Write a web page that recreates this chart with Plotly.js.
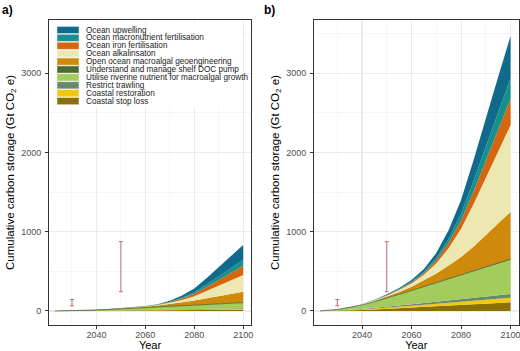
<!DOCTYPE html>
<html><head><meta charset="utf-8">
<script src="https://cdn.plot.ly/plotly-3.0.1.min.js"></script>
<style>html,body{margin:0;padding:0;background:#fff}#chart{width:520px;height:351px}</style>
</head><body><div id="chart"></div>
<script>
// ---- data ----
const years = [2023,2025,2030,2035,2040,2045,2050,2055,2060,2065,2070,2075,2080,2085,2090,2095,2100];

// panel a (Gt CO2 e, per layer)
const a_stopLoss      = [0,0.1,0.5,1,1.7,2.7,3.7,4.8,5.9,7,8.1,9.3,10.4,11.5,12.6,13.8,15];
const a_restoration   = [0,0.05,0.3,0.7,1.2,1.8,2.5,3.2,3.9,4.7,5.4,6.2,6.9,7.7,8.4,9.2,10];
const a_trawling      = [0,0.04,0.2,0.6,0.9,1.4,2,2.6,3.2,3.7,4.3,4.9,5.5,6.1,6.7,7.4,8];
const a_riverine      = [0,0.4,2.1,4.9,8,12.6,17.2,22.4,27.6,32.8,37.9,43.2,48.4,53.6,58.8,64.4,70];
const a_docPump       = [0,0,0.1,0.1,0.2,0.4,0.5,0.6,0.8,0.9,1.1,1.2,1.4,1.5,1.7,1.8,2];
const a_macroalgal    = [0,0,0,0,1,2,4,7,12,20,30,44,60,80,100,118,138];
const a_alkalinity    = [0,0,0,0.2,0.4,0.8,1.5,2.1,3.2,6.1,15.4,30.8,54.4,90.7,129.8,169.9,211];
const a_iron          = [0,0,0,0.1,0.2,0.5,0.8,1.2,1.8,3.4,8.5,17.1,30.2,50.3,72,94.2,117];
const a_macronutrient = [0,0,0,0.1,0.1,0.3,0.5,0.7,1.1,2.1,5.3,10.5,18.6,31,44.3,58,72];
const a_upwelling     = [0,0,0,0.2,0.4,0.8,1.3,1.9,2.8,5.5,13.8,27.6,48.8,81.3,116.2,152.1,189];

// panel b
const b_stopLoss      = [0,0.5,3,8,13,20,27,35,43,51,60,68,76,84,92,101,110];
const b_restoration   = [0,0.3,2,4,7,10,14,19,23,27,31,36,40,44,49,53,58];
const b_trawling      = [0,0.2,1,3,5,8,11,15,18,22,25,28,32,35,39,42,46];
const b_riverine      = [0,2,13,30,50,78,106,138,170,202,234,266,298,330,362,397,431];
const b_docPump       = [0,0,0.3,0.7,1,2,2.5,3,4,5,5.4,6,7,8,8.4,9,10];
const b_macroalgal    = [0,0,0,0,3,8,18,30,47,78,118,168,229,310,404,500,597];
const b_alkalinity    = [0,0,0,1,3,8,15,24.7,41.5,71,127,221,354,536,732,913,1093];
const b_iron          = [0,0,0,0.3,1,2,5,7.4,12.5,21,38,66,106,161,220,274,328];
const b_macronutrient = [0,0,0,0.3,1,2,4,5.9,9.9,17,30,53,85,128,175,218,261];
const b_upwelling     = [0,0,0,0.5,2,4,7,12,20.3,35,62,108,173,262,358,446,534];

// error bars (target ranges)
const errYears = [2030, 2050];
const errLow   = [65, 243];
const errHigh  = [145, 874];

// names (bottom of stack first)
const seriesNames = ["Coastal stop loss","Coastal restoration","Restrict trawling",
  "Utilise riverine nutrient for macroalgal growth","Understand and manage shelf DOC pump",
  "Open ocean macroalgal geoengineering","Ocean alkalinsaton","Ocean iron fertilisation",
  "Ocean macronutrient fertilisation","Ocean upwelling"];
const seriesColors = ["#8a7006","#f1c80a","#678a6c","#a2cc5b","#4e6a2f",
  "#d08a0b","#ede8b2","#d5650e","#16908c","#0f6a8c"];
const panelA = [a_stopLoss,a_restoration,a_trawling,a_riverine,a_docPump,a_macroalgal,a_alkalinity,a_iron,a_macronutrient,a_upwelling];
const panelB = [b_stopLoss,b_restoration,b_trawling,b_riverine,b_docPump,b_macroalgal,b_alkalinity,b_iron,b_macronutrient,b_upwelling];

const xTickVals = [2040,2060,2080,2100];
const xTickText = ["2040","2060","2080","2100"];
const yTickVals = [0,1000,2000,3000];
const yTickText = ["0","1000","2000","3000"];

// ---- layout helpers ----
const W = 520, H = 351;
const px = v => v / W;
const py = v => 1 - v / H;
const FONT = "Liberation Sans, Arial, Helvetica, sans-serif";

const traces = [];
[[panelA,'x','y','a'],[panelB,'x2','y2','b']].forEach(([panel, xa, ya, grp]) => {
  panel.forEach((arr, i) => {
    traces.push({
      type:'scatter', mode:'lines', x: years, y: arr, stackgroup: grp,
      xaxis: xa, yaxis: ya, name: seriesNames[i],
      line:{width: seriesNames[i].startsWith("Understand") ? 0.8 : 0, color: seriesColors[i]},
      fillcolor: seriesColors[i], hoverinfo:'skip', showlegend:false
    });
  });
  const mid = errLow.map((l,i)=> (l+errHigh[i])/2);
  traces.push({
    type:'scatter', mode:'markers', x: errYears, y: mid, xaxis: xa, yaxis: ya,
    marker:{size:1, color:'rgba(0,0,0,0)'}, showlegend:false, hoverinfo:'skip',
    error_y:{type:'data', symmetric:false,
      array: errHigh.map((h,i)=>h-mid[i]), arrayminus: mid.map((m,i)=>m-errLow[i]),
      color:'#c06a6d', thickness:1, width:2}
  });
});

function xAxis(domain){
  return {domain, range:[2020.6,2103.2], tickmode:'array', tickvals:xTickVals, ticktext:xTickText,
    ticks:'outside', ticklen:3, tickcolor:'#333', tickwidth:1, ticklabeloverflow:'allow', ticklabelstandoff:-2,
    tickfont:{family:FONT,size:9,color:'#4d4d4d'},
    showline:true, mirror:true, linecolor:'#333', linewidth:1,
    showgrid:true, gridcolor:'#ebebeb', gridwidth:1.1, zeroline:false,
    minor:{tickmode:'array', tickvals:[2030,2050,2070,2090], showgrid:true, gridcolor:'#f0f0f0', gridwidth:0.6, ticks:''},
    title:{text:'Year', font:{family:FONT,size:11,color:'#000'}, standoff:3}, automargin:false, fixedrange:true};
}
function yAxis(anchor){
  return {domain:[py(325), py(20)], range:[-177,3670], anchor, tickmode:'array', tickvals:yTickVals, ticktext:yTickText,
    ticks:'outside', ticklen:3, tickcolor:'#333', tickwidth:1, ticklabelstandoff:2,
    tickfont:{family:FONT,size:9,color:'#4d4d4d'},
    showline:true, mirror:true, linecolor:'#333', linewidth:1,
    showgrid:true, gridcolor:'#ebebeb', gridwidth:1.1, zeroline:false,
    minor:{tickmode:'array', tickvals:[500,1500,2500,3500], showgrid:true, gridcolor:'#f0f0f0', gridwidth:0.6, ticks:''},
    title:{text:'Cumulative carbon storage (Gt CO<sub>2</sub> e)', font:{family:FONT,size:11.5,color:'#000'}, standoff:4},
    automargin:false, fixedrange:true};
}

const shapes = [];
const annotations = [];
// legend background
shapes.push({type:'rect', xref:'paper', yref:'paper', x0:px(52), x1:px(243), y0:py(23), y1:py(107),
  fillcolor:'#fff', line:{width:0}, layer:'above'});
// legend entries, top to bottom
for (let k = 0; k < seriesNames.length; k++) {
  const i = seriesNames.length - 1 - k;
  const cy = 30 + k * 7.9;
  shapes.push({type:'rect', xref:'paper', yref:'paper', x0:px(57), x1:px(79), y0:py(cy+3.6), y1:py(cy-3.6),
    fillcolor: seriesColors[i], line:{width:0.5, color:'#f4f4f4'}, layer:'above'});
  annotations.push({xref:'paper', yref:'paper', x:px(84.5), y:py(cy), xanchor:'left', yanchor:'middle',
    text: seriesNames[i], showarrow:false, font:{family:FONT, size:8.2, color:'#1a1a1a'}, borderpad:0});
}
annotations.push({xref:'paper', yref:'paper', x:px(0), y:py(10), xanchor:'left', yanchor:'middle',
  text:'<b>a)</b>', showarrow:false, font:{family:FONT,size:12,color:'#000'}});
annotations.push({xref:'paper', yref:'paper', x:px(262), y:py(10), xanchor:'left', yanchor:'middle',
  text:'<b>b)</b>', showarrow:false, font:{family:FONT,size:12,color:'#000'}});

const layout = {
  width:W, height:H, margin:{l:0,r:0,t:0,b:0}, paper_bgcolor:'#fff', plot_bgcolor:'#fff',
  showlegend:false, font:{family:FONT},
  xaxis: xAxis([px(49), px(251)]),
  yaxis: yAxis('x'),
  xaxis2: Object.assign(xAxis([px(314), px(518.5)]), {anchor:'y2'}),
  yaxis2: yAxis('x2'),
  shapes, annotations
};
layout.xaxis.anchor = 'y';

Plotly.newPlot('chart', traces, layout, {displayModeBar:false, staticPlot:true});
</script></body></html>
